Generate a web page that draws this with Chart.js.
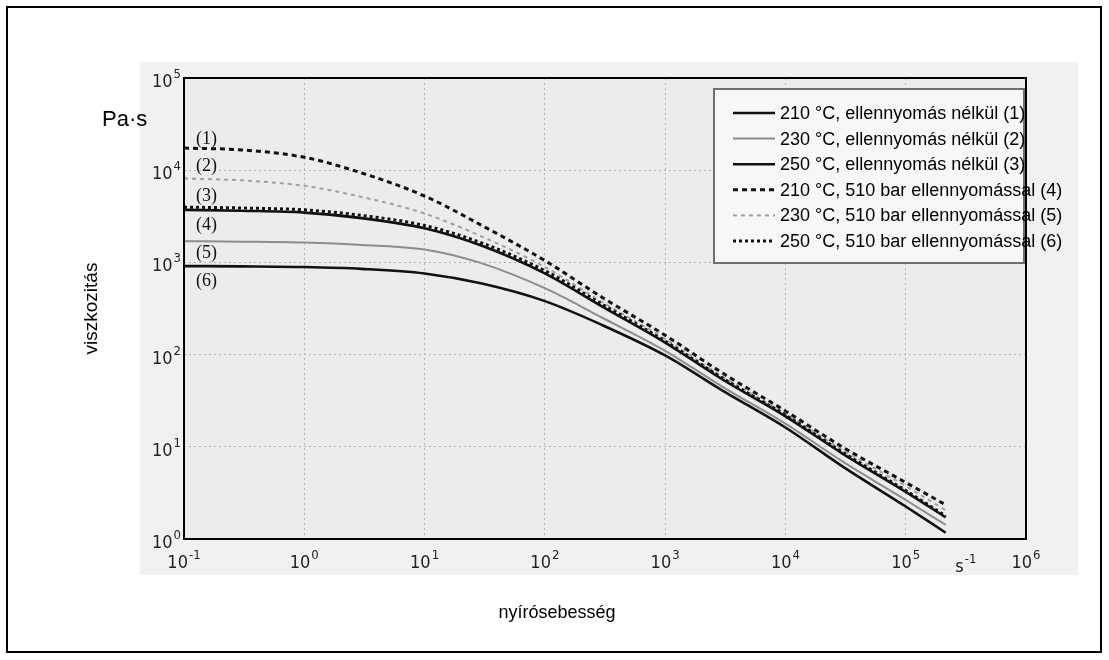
<!DOCTYPE html>
<html lang="hu">
<head>
<meta charset="utf-8">
<title>viszkozitás</title>
<script src="https://cdn.jsdelivr.net/npm/chart.js@4.4.1/dist/chart.umd.min.js"></script>
<style>
  html, body { margin: 0; padding: 0; background: #fff; }
  #graficoViscosidade { display: block; }
</style>
</head>
<body>
<canvas id="graficoViscosidade" width="1109" height="660"></canvas>
<script>
// ======================================================
// 1. DADOS
// ======================================================

const taxaCisalhamento = [0.1, 0.3, 1, 3, 10, 30, 100, 300, 1000, 3000, 1e4, 3e4, 1e5, 2.15e5];

// sem contrapressão
const visc210 = [3715, 3631, 3467, 3020, 2344, 1514, 759, 331, 135, 53.7, 21.4, 8.4, 3.25, 1.72];
const visc230 = [1698, 1679, 1641, 1549, 1380, 977, 525, 251, 110, 44.7, 17.8, 6.9, 2.65, 1.42];
const visc250 = [912, 906, 891, 851, 759, 589, 380, 209, 98, 40.7, 16.2, 6.1, 2.25, 1.17];
// com 510 bar de contrapressão
const visc210Contra = [17378, 16596, 13804, 9333, 5248, 2512, 1047, 417, 162, 63.1, 24.5, 9.9, 4.1, 2.35];
const visc230Contra = [8128, 7762, 6761, 5129, 3388, 1905, 891, 372, 148, 57.5, 22.9, 9.2, 3.75, 2.05];
const visc250Contra = [3981, 3890, 3715, 3236, 2512, 1622, 813, 351, 140, 55.6, 22.1, 8.7, 3.35, 1.78];

const legendas = [
  '210 °C, ellennyomás nélkül (1)',
  '230 °C, ellennyomás nélkül (2)',
  '250 °C, ellennyomás nélkül (3)',
  '210 °C, 510 bar ellennyomással (4)',
  '230 °C, 510 bar ellennyomással (5)',
  '250 °C, 510 bar ellennyomással (6)'
];
const rotulosCurvas = ['(1)', '(2)', '(3)', '(4)', '(5)', '(6)'];

const ticksX = [0.1, 1, 10, 100, 1000, 1e4, 1e5, 1e6];
const expoentesX = ['-1', '0', '1', '2', '3', '4', '5', '6'];
const ticksY = [1, 10, 100, 1000, 1e4, 1e5];
const expoentesY = ['0', '1', '2', '3', '4', '5'];


// ======================================================
// 2. ESTILOS
// ======================================================

const fonteTexto = "'Liberation Sans', Arial, sans-serif";
const fonteTicks = "'DejaVu Sans Condensed', 'Liberation Sans Narrow', sans-serif";
const fonteSerif = "'Liberation Serif', 'Times New Roman', serif";

const estilos = [
  { cor: '#111', largura: 2.6, traco: [] },
  { cor: '#8c8c8c', largura: 2, traco: [] },
  { cor: '#111', largura: 2.6, traco: [] },
  { cor: '#111', largura: 3, traco: [5, 4] },
  { cor: '#a0a0a0', largura: 2, traco: [4, 4] },
  { cor: '#111', largura: 3, traco: [3, 3] }
];

function montarSerie(valores, i) {
  return {
    label: legendas[i],
    data: taxaCisalhamento.map((x, k) => ({ x: x, y: valores[k] })),
    borderColor: estilos[i].cor,
    borderWidth: estilos[i].largura,
    borderDash: estilos[i].traco,
    pointRadius: 0,
    fill: false,
    cubicInterpolationMode: 'monotone',
    order: i === 5 ? 0 : 1
  };
}

// "10" com expoente elevado
function desenharPotencia(ctx, base, expoente, x, yBase, alinhamento) {
  ctx.font = '18px ' + fonteTicks;
  const wBase = ctx.measureText(base).width;
  ctx.font = '13px ' + fonteTicks;
  const wExp = ctx.measureText(expoente).width;
  const x0 = alinhamento === 'right' ? x - wBase - wExp - 1 : x - (wBase + wExp + 1) / 2;
  ctx.textAlign = 'left';
  ctx.textBaseline = 'alphabetic';
  ctx.font = '18px ' + fonteTicks;
  ctx.fillText(base, x0, yBase);
  ctx.font = '13px ' + fonteTicks;
  ctx.fillText(expoente, x0 + wBase + 1, yBase - 9);
}


// ======================================================
// 3. PLUGIN: fundo, rótulos, legenda e molduras
// ======================================================

const pluginExtras = {
  id: 'extras',
  beforeDraw(chart) {
    const ctx = chart.ctx;
    const a = chart.chartArea;
    ctx.save();
    ctx.fillStyle = '#fff';
    ctx.fillRect(0, 0, chart.width, chart.height);
    // area cinza da digitalização
    ctx.fillStyle = '#f1f1f1';
    ctx.fillRect(a.left - 44, a.top - 16, a.right - a.left + 96, a.bottom - a.top + 52);
    ctx.fillStyle = '#ececec';
    ctx.fillRect(a.left, a.top, a.right - a.left, a.bottom - a.top);
    ctx.restore();
  },
  afterDraw(chart) {
    const ctx = chart.ctx;
    const a = chart.chartArea;
    const escX = chart.scales.x;
    const escY = chart.scales.y;
    ctx.save();

    // rótulos dos eixos (potências de 10)
    ctx.fillStyle = '#222';
    ticksX.forEach((v, i) => {
      desenharPotencia(ctx, '10', expoentesX[i], escX.getPixelForValue(v), a.bottom + 29, 'center');
    });
    ticksY.forEach((v, i) => {
      desenharPotencia(ctx, '10', expoentesY[i], a.left - 3, escY.getPixelForValue(v) + 9, 'right');
    });
    desenharPotencia(ctx, 's', '-1', escX.getPixelForValue(3.16e5), a.bottom + 33, 'center');

    // rótulos (1)..(6) ao lado do eixo
    const alturaRotulos = [21400, 11000, 5250, 2510, 1260, 617];
    ctx.fillStyle = '#111';
    ctx.font = '18px ' + fonteSerif;
    ctx.textAlign = 'left';
    ctx.textBaseline = 'middle';
    rotulosCurvas.forEach((txt, i) => {
      ctx.fillText(txt, a.left + 12, escY.getPixelForValue(alturaRotulos[i]));
    });

    // unidade do eixo y
    ctx.fillStyle = '#000';
    ctx.font = '22px ' + fonteTexto;
    ctx.fillText('Pa·s', a.left - 82, a.top + 42);

    // título do eixo x
    ctx.textAlign = 'center';
    ctx.font = '18px ' + fonteTexto;
    ctx.fillText('nyírósebesség', a.left + 373, a.bottom + 74);

    // legenda
    const lx = a.right - 312, ly = a.top + 11;
    ctx.fillStyle = '#f7f7f7';
    ctx.fillRect(lx, ly, 310, 174);
    ctx.strokeStyle = '#6e6e6e';
    ctx.lineWidth = 2;
    ctx.strokeRect(lx, ly, 310, 174);
    ctx.font = '18px ' + fonteTexto;
    ctx.textAlign = 'left';
    chart.data.datasets.forEach((ds, i) => {
      const y = ly + 24 + i * 25.6;
      ctx.beginPath();
      ctx.strokeStyle = ds.borderColor;
      ctx.lineWidth = ds.borderWidth;
      ctx.setLineDash(ds.borderDash);
      ctx.moveTo(lx + 19, y);
      ctx.lineTo(lx + 61, y);
      ctx.stroke();
      ctx.setLineDash([]);
      ctx.fillStyle = '#000';
      ctx.fillText(ds.label, lx + 66, y + 1);
    });

    // moldura do gráfico
    ctx.strokeStyle = '#000';
    ctx.lineWidth = 2;
    ctx.strokeRect(a.left, a.top, a.right - a.left, a.bottom - a.top);

    // moldura externa
    ctx.strokeRect(7, 7, chart.width - 15, chart.height - 15);
    ctx.restore();
  }
};


// ======================================================
// 4. GRÁFICO
// ======================================================

function montarGrafico() {
  const ctx = document.getElementById('graficoViscosidade');
  if (!ctx) return;

  const series = [visc210, visc230, visc250, visc210Contra, visc230Contra, visc250Contra];

  new Chart(ctx, {
    type: 'line',
    data: { datasets: series.map(montarSerie) },
    options: {
      responsive: false,
      animation: false,
      devicePixelRatio: 1,
      events: [],
      layout: { padding: { left: 80, top: 78, right: 83, bottom: 81 } },
      plugins: { legend: { display: false }, tooltip: { enabled: false } },
      scales: {
        x: {
          type: 'logarithmic',
          min: 0.1,
          max: 1e6,
          afterBuildTicks: s => { s.ticks = ticksX.map(v => ({ value: v })); },
          afterFit: s => { s.height = 40; },
          ticks: { display: false },
          grid: { color: '#b4b4b4', lineWidth: 1, drawTicks: false, tickLength: 0 },
          border: { display: false, dash: [2, 3] }
        },
        y: {
          type: 'logarithmic',
          min: 1,
          max: 1e5,
          afterBuildTicks: s => { s.ticks = ticksY.map(v => ({ value: v })); },
          afterFit: s => { s.width = 104; },
          title: {
            display: true, text: 'viszkozitás', color: '#000', padding: 0,
            font: { family: fonteTexto, size: 19 }
          },
          ticks: { display: false },
          grid: { color: '#b4b4b4', lineWidth: 1, drawTicks: false, tickLength: 0 },
          border: { display: false, dash: [2, 3] }
        }
      }
    },
    plugins: [pluginExtras]
  });
}

montarGrafico();
</script>
</body>
</html>
